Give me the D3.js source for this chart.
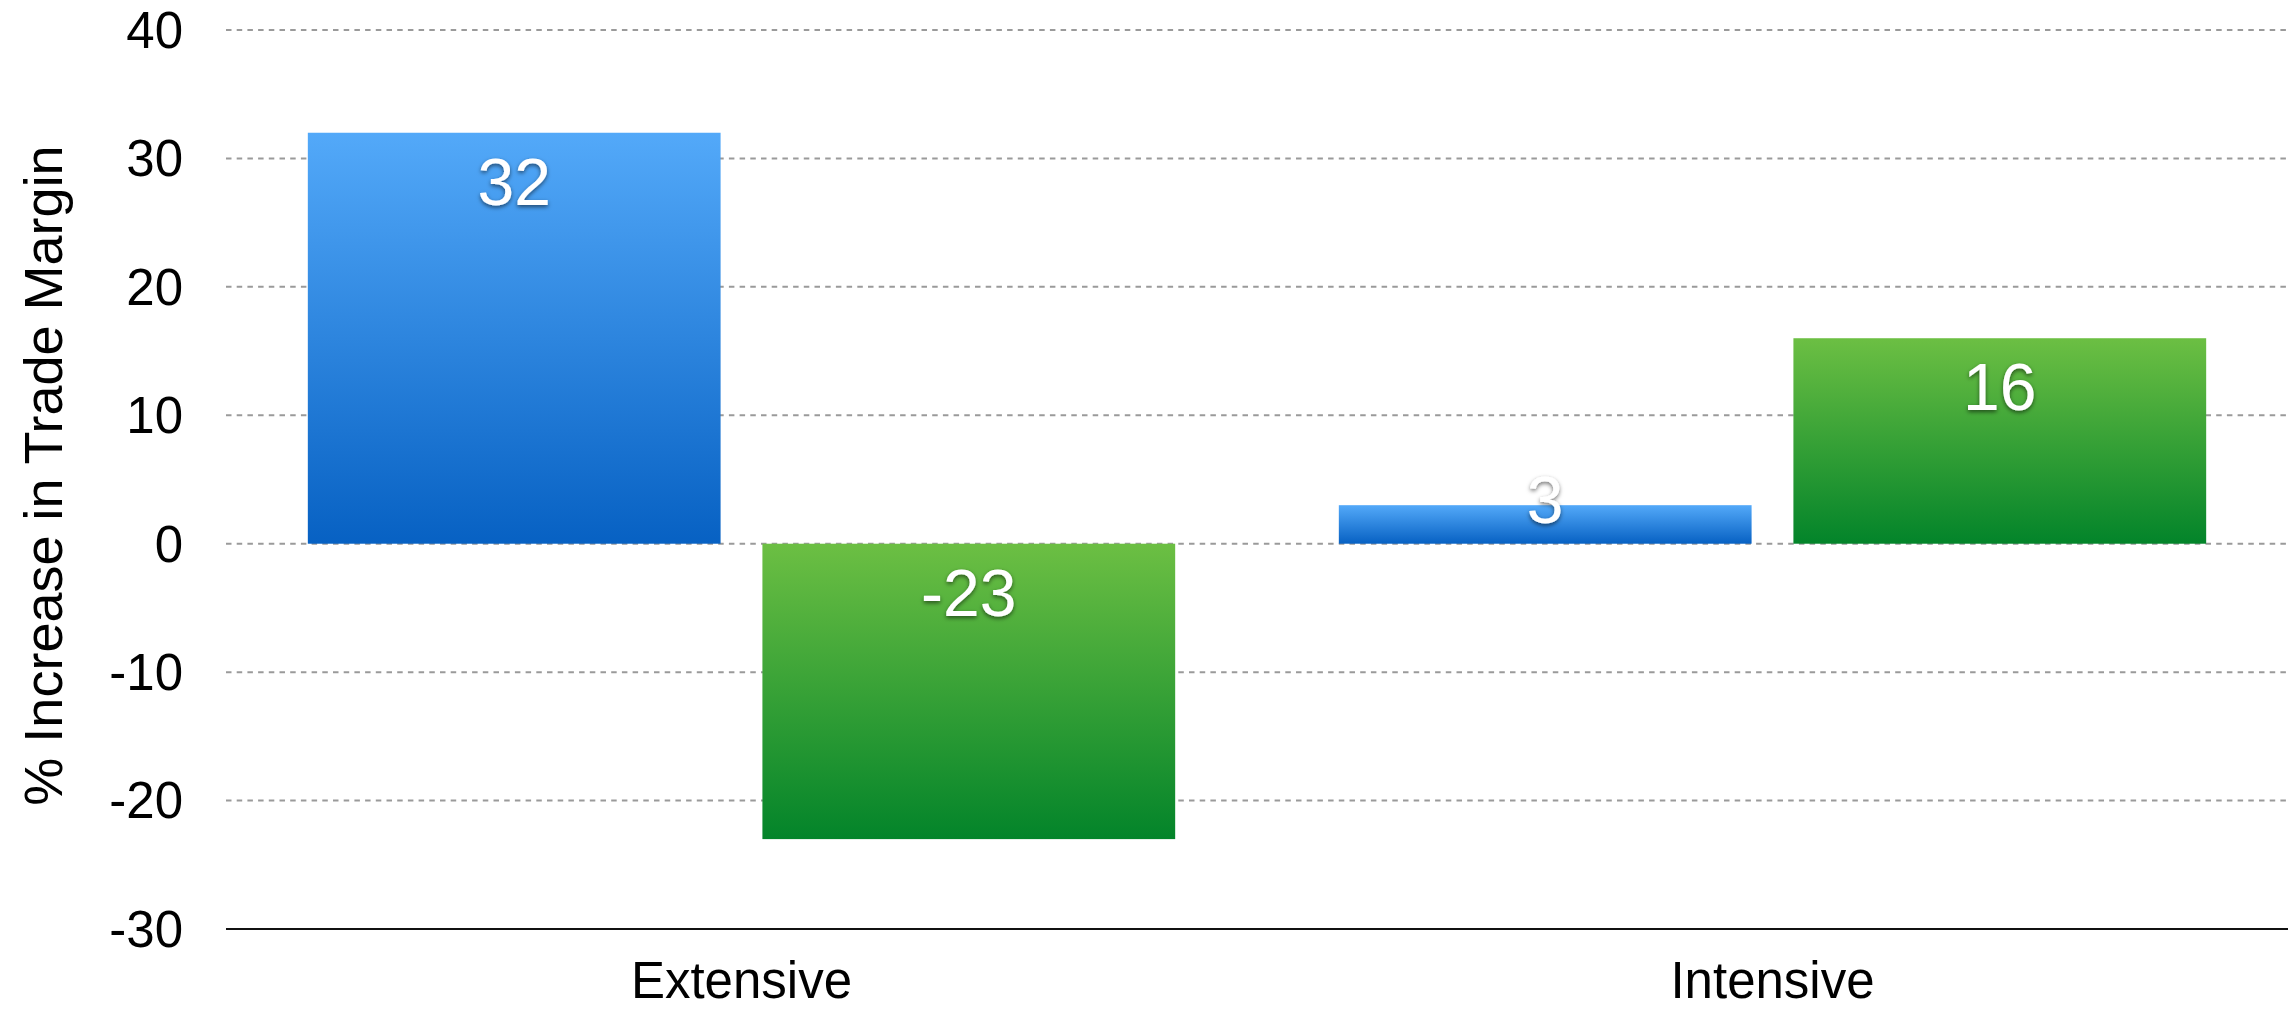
<!DOCTYPE html>
<html>
<head>
<meta charset="utf-8">
<script src="https://cdn.jsdelivr.net/npm/d3@7"></script>
<style>
  body { margin: 0; background: #fff; }
  text { font-family: "Liberation Sans", Helvetica, Arial, sans-serif; }
</style>
</head>
<body>
<div id="chart"></div>
<script>
var svgWidth = 2288;
var svgHeight = 1011;

// chart data
var categories = ["Extensive", "Intensive"];
var seriesNames = ["blue", "green"];
var blueValues = [32, 3];
var greenValues = [-23, 16];
var yTicks = [-30, -20, -10, 0, 10, 20, 30, 40];
var yTitle = "% Increase in Trade Margin";

var margin = { top: 30, right: 0, bottom: 82, left: 226 };
var width = svgWidth - margin.left - margin.right;
var height = svgHeight - margin.top - margin.bottom;

var svg = d3.select("#chart")
  .append("svg")
  .attr("width", svgWidth)
  .attr("height", svgHeight);

// gradients + shadow for value labels
var defs = svg.append("defs");
var grads = {
  blue: ["#53a9f9", "#0761c3"],
  green: ["#6cbf43", "#03842a"]
};
Object.keys(grads).forEach(function(k) {
  var g = defs.append("linearGradient")
    .attr("id", "grad-" + k)
    .attr("x1", 0).attr("y1", 0).attr("x2", 0).attr("y2", 1);
  g.append("stop").attr("offset", "0%").attr("stop-color", grads[k][0]);
  g.append("stop").attr("offset", "100%").attr("stop-color", grads[k][1]);
});
var shadow = defs.append("filter").attr("id", "shadow")
  .attr("x", "-20%").attr("y", "-20%").attr("width", "140%").attr("height", "150%");
shadow.append("feDropShadow")
  .attr("dx", 0).attr("dy", 2).attr("stdDeviation", 2)
  .attr("flood-color", "#000").attr("flood-opacity", 0.55);

var chartGroup = svg.append("g")
  .attr("transform", `translate(${margin.left}, ${margin.top})`);

// scales
var x0 = d3.scaleBand()
  .domain(categories)
  .range([0, width]);

var x1 = d3.scaleBand()
  .domain(seriesNames)
  .range([0, x0.bandwidth()])
  .paddingInner(0.092)
  .paddingOuter(0.18);

var y = d3.scaleLinear()
  .domain([-30, 40])
  .range([height, 0]);

// gridlines
chartGroup.append("g")
  .selectAll("line")
  .data(yTicks.filter(d => d !== -30))
  .enter()
  .append("line")
  .attr("x1", 0)
  .attr("x2", width)
  .attr("y1", d => y(d))
  .attr("y2", d => y(d))
  .attr("stroke", "#9a9a9a")
  .attr("stroke-width", 2)
  .attr("stroke-dasharray", "5.5,5.2");

// y axis labels (plain hyphen for negatives, like the original)
var leftAxis = d3.axisLeft(y)
  .tickValues(yTicks)
  .tickFormat(d => String(d))
  .tickSize(0)
  .tickPadding(43);
var yAxisG = chartGroup.append("g").call(leftAxis);
yAxisG.select(".domain").remove();
yAxisG.selectAll("text")
  .attr("font-size", 51)
  .attr("fill", "#000")
  .attr("dy", "0.34em")
  .style("font-family", "'Liberation Sans', Helvetica, Arial, sans-serif");

// bars
var rows = categories.map(function(c, i) {
  return { cat: c, vals: [
    { key: "blue", value: blueValues[i] },
    { key: "green", value: greenValues[i] }
  ] };
});

var groups = chartGroup.selectAll(".cat")
  .data(rows)
  .enter()
  .append("g")
  .attr("class", "cat")
  .attr("transform", d => `translate(${x0(d.cat)}, 0)`);

groups.selectAll("rect")
  .data(d => d.vals)
  .enter()
  .append("rect")
  .attr("x", d => x1(d.key))
  .attr("width", x1.bandwidth())
  .attr("y", d => y(Math.max(0, d.value)))
  .attr("height", d => Math.abs(y(d.value) - y(0)))
  .attr("fill", d => `url(#grad-${d.key})`);

groups.selectAll(".valueText")
  .data(d => d.vals)
  .enter()
  .append("text")
  .attr("class", "valueText")
  .attr("x", d => x1(d.key) + x1.bandwidth() / 2)
  .attr("y", function(d) {
    var top = y(Math.max(0, d.value));
    var bottom = y(Math.min(0, d.value));
    return Math.min(top + 72, bottom - 21);
  })
  .attr("text-anchor", "middle")
  .attr("font-size", 66)
  .attr("fill", "#fff")
  .attr("filter", "url(#shadow)")
  .text(d => d.value);

// bottom axis line at -30
chartGroup.append("line")
  .attr("x1", 0)
  .attr("x2", width)
  .attr("y1", y(-30))
  .attr("y2", y(-30))
  .attr("stroke", "#111")
  .attr("stroke-width", 2);

// category labels
chartGroup.selectAll(".catText")
  .data(categories)
  .enter()
  .append("text")
  .attr("class", "catText")
  .attr("x", d => x0(d) + x0.bandwidth() / 2)
  .attr("y", height + 69)
  .attr("text-anchor", "middle")
  .attr("font-size", 51)
  .attr("fill", "#000")
  .text(d => d);

// y title
svg.append("text")
  .attr("transform", `translate(62, ${margin.top + height / 2 - 4}) rotate(-90)`)
  .attr("text-anchor", "middle")
  .attr("font-size", 54)
  .attr("fill", "#000")
  .text(yTitle);
</script>
</body>
</html>
